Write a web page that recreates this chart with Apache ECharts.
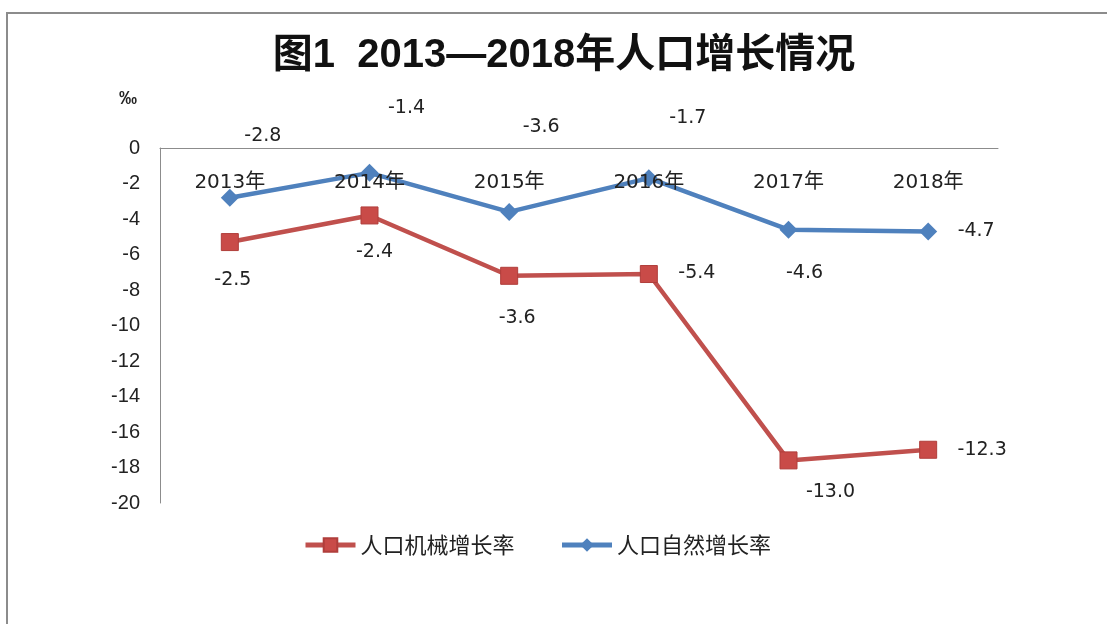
<!DOCTYPE html>
<html>
<head>
<meta charset="utf-8">
<title>图1 2013—2018年人口增长情况</title>
<script src="https://cdn.jsdelivr.net/npm/echarts@6/dist/echarts.min.js"></script>
<style>
    html, body { margin: 0; padding: 0; background: #fff; }
    #main { width: 1107px; height: 624px; }
</style>
</head>
<body>
<div id="main"></div>
<script>
// 数据
var years = ['2013年', '2014年', '2015年', '2016年', '2017年', '2018年'];
var naturalRate = [-2.8, -1.4, -3.6, -1.7, -4.6, -4.7];      // 人口自然增长率
var mechanicalRate = [-2.5, -2.4, -3.6, -5.4, -13.0, -12.3]; // 人口机械增长率（堆叠在自然增长率上）
var yTicks = [0, -2, -4, -6, -8, -10, -12, -14, -16, -18, -20];

// 标签偏移（相对数据点）
var naturalLabelOffset = [[33, -62], [37, -65], [32, -85], [39, -60], [16, 43], [48, 0]];
var mechanicalLabelOffset = [[3, 38], [5, 37], [8, 42], [48, -1], [42, 32], [54, 0]];

(function () {
    var myChart = echarts.init(document.getElementById('main'));

    var numFont = 'DejaVu Sans, Noto Sans CJK SC, sans-serif';

    function withLabels(values, offsets) {
        return values.map(function (v, i) {
            return { value: v, label: { offset: offsets[i] } };
        });
    }

    var option = {
        backgroundColor: '#fff',
        title: {
            text: '图1  2013—2018年人口增长情况',
            left: 564,
            top: 36,
            padding: 0,
            textAlign: 'center',
            textStyle: {
                fontFamily: 'Liberation Sans, Noto Sans CJK SC, sans-serif',
                fontWeight: 'bold',
                fontSize: 40,
                color: '#111'
            }
        },
        legend: {
            data: ['人口机械增长率', '人口自然增长率'],
            left: 303,
            top: 534,
            padding: 0,
            itemWidth: 50,
            itemHeight: 17,
            itemGap: 45,
            lineStyle: { width: 5 },
            textStyle: {
                fontFamily: 'Noto Sans CJK SC, sans-serif',
                fontSize: 22,
                color: '#222'
            }
        },
        grid: {
            left: 160,
            right: 109,
            top: 148,
            bottom: 121,
            containLabel: false
        },
        graphic: [{
            type: 'rect',
            shape: { x: 7, y: 13, width: 1300, height: 800 },
            style: { fill: 'none', stroke: '#8c8c8c', lineWidth: 2 },
            silent: true
        }],
        xAxis: {
            type: 'category',
            data: years,
            position: 'top',
            boundaryGap: true,
            z: 5,
            axisLine: { onZero: false, lineStyle: { color: '#8c8c8c', width: 1 } },
            axisTick: { show: false },
            axisLabel: {
                inside: true,
                margin: 25,
                fontFamily: numFont,
                fontSize: 20,
                color: '#222'
            },
            splitLine: { show: false }
        },
        yAxis: {
            type: 'value',
            min: yTicks[yTicks.length - 1],
            max: yTicks[0],
            interval: 2,
            name: '‰',
            nameLocation: 'end',
            nameGap: 40,
            nameTextStyle: {
                fontFamily: 'Liberation Sans, sans-serif',
                fontWeight: 'bold',
                fontSize: 18,
                color: '#222',
                align: 'right',
                padding: [0, 23, 0, 0]
            },
            axisLine: { show: true, lineStyle: { color: '#8c8c8c', width: 1 } },
            axisTick: { show: false },
            splitLine: { show: false },
            axisLabel: {
                margin: 20,
                fontFamily: 'Liberation Sans, sans-serif',
                fontSize: 20,
                color: '#222'
            }
        },
        series: [
            {
                name: '人口自然增长率',
                type: 'line',
                stack: 'rate',
                data: withLabels(naturalRate, naturalLabelOffset),
                symbol: 'diamond',
                symbolSize: 18,
                lineStyle: { color: '#4F81BD', width: 4.5 },
                itemStyle: { color: '#4F81BD' },
                label: {
                    show: true,
                    position: 'inside',
                    fontFamily: numFont,
                    fontSize: 19,
                    color: '#222',
                    formatter: function (p) { return p.value.toFixed(1); }
                },
                z: 3
            },
            {
                name: '人口机械增长率',
                type: 'line',
                stack: 'rate',
                data: withLabels(mechanicalRate, mechanicalLabelOffset),
                symbol: 'rect',
                symbolSize: 17,
                lineStyle: { color: '#C0504D', width: 4.5 },
                itemStyle: { color: '#C94B48', borderColor: '#B03E3B', borderWidth: 1 },
                label: {
                    show: true,
                    position: 'inside',
                    fontFamily: numFont,
                    fontSize: 19,
                    color: '#222',
                    formatter: function (p) { return p.value.toFixed(1); }
                },
                z: 3
            }
        ]
    };

    myChart.setOption(option);

    window.addEventListener('resize', function () {
        myChart.resize();
    });
})();
</script>
</body>
</html>
